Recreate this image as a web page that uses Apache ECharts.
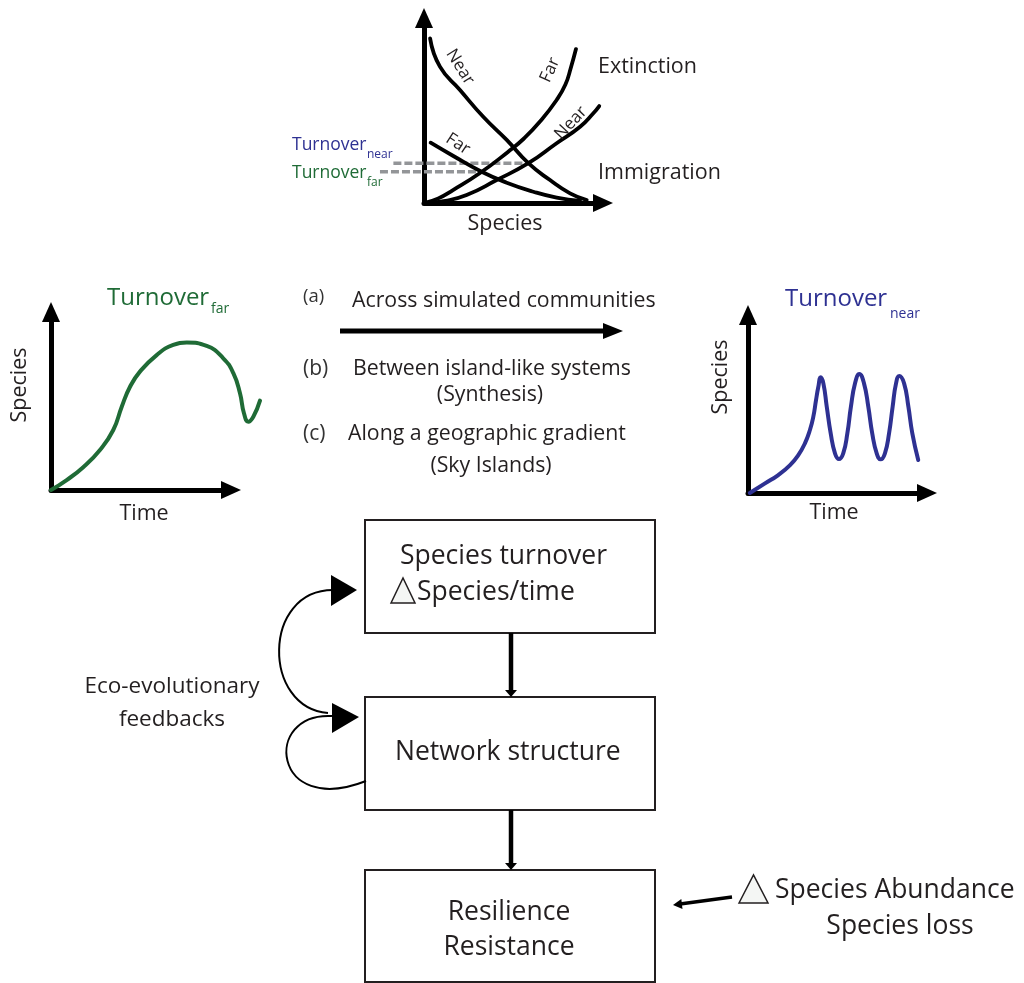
<!DOCTYPE html>
<html>
<head>
<meta charset="utf-8">
<script src="https://cdn.jsdelivr.net/npm/echarts@6/dist/echarts.min.js"></script>
<style>html,body{margin:0;padding:0;background:#fff}#chart{width:1024px;height:983px}</style>
</head>
<body>
<div id="chart"></div>
<script>
// ---- data ----
// Top panel: island biogeography curves [species, rate]
const extinctionFar  = [[0,0],[0.8,0.25],[1.62,0.7],[3.13,1.62],[4.69,2.76],[5.6,3.5],[6.48,4.4],[7.41,5.57],[7.9,6.4],[8.2,7.3],[8.49,8.32]];
const extinctionNear = [[0,0],[1.2,0.12],[2.38,0.43],[4.06,1.24],[5.83,2.15],[7.41,3.23],[8.72,4.12],[9.46,4.85],[9.79,5.24]];
const immigrationNear = [[0.34,8.9],[0.89,7.37],[2.01,6.11],[3.31,4.66],[4.62,3.41],[5.83,2.15],[7.04,1.24],[8.16,0.52],[9.09,0.16]];
const immigrationFar  = [[0.37,3.26],[1.64,2.54],[3.22,1.69],[4.62,1.1],[6.11,0.61],[7.41,0.29],[8.72,0.11]];
const turnoverNearLevel = [[-1.71,2.15],[5.83,2.15]];
const turnoverFarLevel  = [[-2.46,1.69],[3.22,1.69]];
// Left panel: species through time (far)
const speciesTimeFar = [[0,0],[0.87,0.56],[1.79,1.28],[2.72,2.25],[3.46,3.37],[3.93,4.68],[4.39,5.8],[4.94,6.65],[5.87,7.58],[6.79,8.15],[7.54,8.28],[8.65,8.09],[9.57,7.4],[10.13,6.56],[10.5,5.43],[10.72,4.31],[10.96,3.84],[11.24,4.12],[11.61,5.02]];
// Right panel: species through time (near)
const speciesTimeNear = [[0.1,0],[0.95,0.54],[1.69,1.01],[2.35,1.57],[2.81,2.13],[3.18,2.79],[3.46,3.54],[3.65,4.29],[3.8,5.22],[3.93,5.97],[4.06,6.5],[4.21,6.16],[4.4,4.85],[4.62,3.35],[4.86,2.23],[5.08,1.91],[5.32,2.23],[5.55,3.35],[5.75,4.85],[5.98,6.16],[6.22,6.69],[6.48,6.16],[6.72,4.85],[6.94,3.35],[7.19,2.23],[7.41,1.89],[7.65,2.23],[7.88,3.35],[8.08,4.85],[8.27,6.16],[8.45,6.57],[8.72,6.16],[8.96,4.85],[9.18,3.35],[9.51,1.85]];
// Text
const curveNames = ['Near', 'Far', 'Near', 'Far'];
const processNames = ['Extinction', 'Immigration'];
const comparisonTags = ['(a)', '(b)', '(c)'];
const comparisonLines = ['Across simulated communities', 'Between island-like systems', '(Synthesis)', 'Along a geographic gradient', '(Sky Islands)'];
const boxTexts = ['Species turnover', 'Species/time', 'Network structure', 'Resilience', 'Resistance'];
const sideTexts = ['Eco-evolutionary', 'feedbacks', 'Species Abundance', 'Species loss'];

// ---- styles ----
const FONT = 'Open Sans';
const INK = '#231f20';
const BLUE = '#2e3192';
const GREEN = '#1f6b36';
const GREY = '#939598';

function axis(gi, min, max, visible) {
  return {
    type: 'value', gridIndex: gi, min: min, max: max, show: visible,
    axisLine: { show: visible, onZero: false, symbol: ['none', 'triangle'], symbolSize: [18, 20],
      lineStyle: { color: '#000', width: 5 } },
    axisTick: { show: false }, axisLabel: { show: false }, splitLine: { show: false }
  };
}
function curve(data, gi, color, width, extra) {
  return Object.assign({
    type: 'line', xAxisIndex: gi, yAxisIndex: gi, data: data, smooth: 0.5,
    showSymbol: false, symbol: 'none', clip: false, silent: true,
    lineStyle: { color: color, width: width, cap: 'round' }
  }, extra || {});
}
function T(text, x, y, size, color, align, rotDeg) {
  return {
    type: 'text', x: x, y: y, z: 20, rotation: (rotDeg || 0) * Math.PI / 180,
    style: { text: text, fontSize: size, fontFamily: FONT, fill: color || INK,
      align: align || 'left', verticalAlign: 'middle', textAlign: align || 'left', textVerticalAlign: 'middle' }
  };
}
function L(x1, y1, x2, y2, w) {
  return { type: 'line', z: 15, shape: { x1: x1, y1: y1, x2: x2, y2: y2 }, style: { stroke: '#000', lineWidth: w } };
}
function P(points, fill, stroke, lw) {
  return { type: 'polygon', z: 16, shape: { points: points },
    style: { fill: fill || '#000', stroke: stroke || null, lineWidth: lw || 0, lineJoin: 'miter' } };
}
function R(x, y, w, h) {
  return { type: 'rect', z: 12, shape: { x: x, y: y, width: w, height: h },
    style: { fill: '#fff', stroke: INK, lineWidth: 2 } };
}
function B(x1, y1, c1x, c1y, c2x, c2y, x2, y2) {
  return { type: 'bezierCurve', z: 14, shape: { x1: x1, y1: y1, cpx1: c1x, cpy1: c1y, cpx2: c2x, cpy2: c2y, x2: x2, y2: y2 },
    style: { stroke: '#000', lineWidth: 2, fill: null } };
}

const graphics = [
  // top panel texts
  T('Turnover', 292, 145, 17.5, BLUE), T('near', 367, 155, 12, BLUE),
  T('Turnover', 292, 173, 17.5, GREEN), T('far', 367, 183, 12, GREEN),
  T(processNames[0], 598, 67, 21.5), T(processNames[1], 598, 173, 21.5),
  T('Species', 505, 224, 21.5, INK, 'center'),
  T(curveNames[0], 460, 67, 17, INK, 'center', -58),
  T(curveNames[1], 550, 70, 17, INK, 'center', 66),
  T(curveNames[2], 571, 123, 17, INK, 'center', 47),
  T(curveNames[3], 458, 144, 17, INK, 'center', -33),
  // left panel texts
  T('Turnover', 107, 298, 24, GREEN), T('far', 211, 309, 14, GREEN),
  T('Species', 20, 385, 21.5, INK, 'center', 90), T('Time', 144, 514, 21.5, INK, 'center'),
  // right panel texts
  T('Turnover', 785, 299, 24, BLUE), T('near', 890, 314, 14, BLUE),
  T('Species', 721, 377, 21.5, INK, 'center', 90), T('Time', 834, 513, 21.5, INK, 'center'),
  // middle comparison block
  T(comparisonTags[0], 303, 297, 18.5, '#333'),
  T(comparisonLines[0], 352, 301, 21.3),
  L(340, 331, 606, 331, 5), P([[603, 323], [623, 331], [603, 339]]),
  T(comparisonTags[1], 303, 369, 21, '#333'),
  T(comparisonLines[1], 353, 369, 21.3),
  T(comparisonLines[2], 490, 395, 21.3, INK, 'center'),
  T(comparisonTags[2], 303, 434, 21, '#333'),
  T(comparisonLines[3], 348, 434, 21.3),
  T(comparisonLines[4], 491, 466, 21.3, INK, 'center'),
  // flowchart
  R(365, 520, 290, 113),
  T(boxTexts[0], 400, 556, 26.5),
  P([[391, 603], [403, 578], [415, 603]], '#f4f6f4', INK, 1.5),
  T(boxTexts[1], 417, 592, 26.5),
  L(511, 633, 511, 691, 4.5), P([[505, 690], [517, 690], [511, 697]]),
  R(365, 697, 290, 113),
  T(boxTexts[2], 395, 752, 26.5),
  L(511, 810, 511, 864, 4.5), P([[505, 863], [517, 863], [511, 870]]),
  R(365, 870, 290, 112),
  T(boxTexts[3], 509, 912, 26.5, INK, 'center'),
  T(boxTexts[4], 509, 947, 26.5, INK, 'center'),
  // feedback loops
  B(328, 713, 262, 708, 262, 590, 333, 590),
  P([[331, 575], [357, 590], [331, 606]]),
  B(332, 716, 262, 712, 272, 818, 366, 781),
  P([[332, 703], [359, 717], [332, 733]]),
  T(sideTexts[0], 172, 687, 22.5, INK, 'center'),
  T(sideTexts[1], 172, 720, 22.5, INK, 'center'),
  // external driver
  L(732, 897, 680, 904, 3.5), P([[673, 905], [682.5, 909], [681.3, 899]]),
  P([[739, 903], [753.5, 875], [768, 903]], '#f4f6f4', INK, 1.5),
  T(sideTexts[2], 775, 890, 26.5),
  T(sideTexts[3], 900, 926, 26.5, INK, 'center')
];

const UX = 17.9; // px per x unit in top panel
const chart = echarts.init(document.getElementById('chart'), null, { renderer: 'canvas' });
chart.setOption({
  animation: false,
  backgroundColor: '#fff',
  grid: [
    { left: 424, top: 18, width: 179, height: 185, outerBoundsMode: 'none', containLabel: false },
    { left: 51, top: 312, width: 180, height: 178, outerBoundsMode: 'none', containLabel: false },
    { left: 748, top: 315, width: 179, height: 178, outerBoundsMode: 'none', containLabel: false },
    // overlay grids sharing the panels' scales but wider, for marks beyond the drawn axes
    { left: 424 - 3 * UX, top: 18, width: 13 * UX, height: 185, outerBoundsMode: 'none', containLabel: false },
    { left: 51, top: 312, width: 216, height: 178, outerBoundsMode: 'none', containLabel: false }
  ],
  xAxis: [axis(0, 0, 10, true), axis(1, 0, 10, true), axis(2, 0, 10, true), axis(3, -3, 10, false), axis(4, 0, 12, false)],
  yAxis: [axis(0, 0, 10, true), axis(1, 0, 10, true), axis(2, 0, 10, true), axis(3, 0, 10, false), axis(4, 0, 10, false)],
  series: [
    curve(turnoverNearLevel, 3, GREY, 3.5, { smooth: false, lineStyle: { color: GREY, width: 3.5, type: [8, 3] }, z: 1 }),
    curve(turnoverFarLevel, 3, GREY, 3.5, { smooth: false, lineStyle: { color: GREY, width: 3.5, type: [8, 3] }, z: 1 }),
    curve(extinctionFar, 0, '#000', 3.8),
    curve(extinctionNear, 0, '#000', 3.8),
    curve(immigrationNear, 0, '#000', 3.8),
    curve(immigrationFar, 0, '#000', 3.8),
    curve(speciesTimeFar, 4, GREEN, 4),
    curve(speciesTimeNear, 2, BLUE, 4)
  ],
  graphic: { elements: graphics }
});
</script>
</body>
</html>
